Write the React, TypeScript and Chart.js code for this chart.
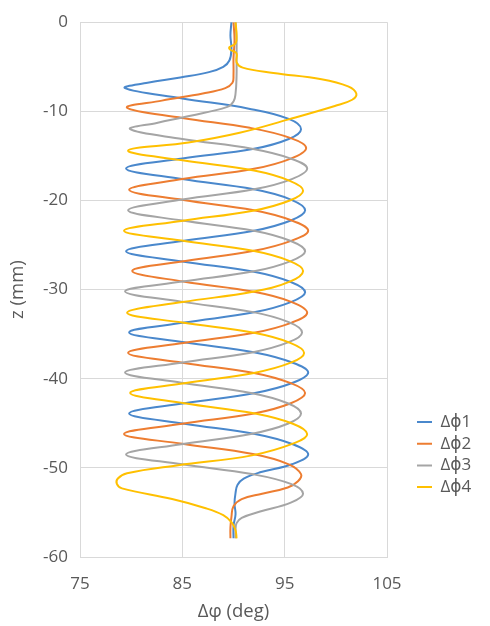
import React, { useEffect, useRef } from 'react';
import { Chart, registerables } from 'chart.js';

Chart.register(...registerables);

// Series labels and colours
const seriesNames = ['Δϕ1', 'Δϕ2', 'Δϕ3', 'Δϕ4'];
const seriesColors = ['#4a88cc', '#ed7d31', '#a5a5a5', '#ffc000'];

// Axis ticks
const phiTicks = [75, 85, 95, 105];
const zTicks = [0, -10, -20, -30, -40, -50, -60];

// Δϕ1: depth z (mm) and phase difference (deg)
const z1 = [0, -1.5, -3.0, -4.3, -5.0, -5.6, -6.2, -6.8, -7.4,
  -8.55, -9.7, -10.85, -12.0,
  -13.1, -14.2, -15.3, -16.4,
  -17.6, -18.75, -19.9, -21.1,
  -22.25, -23.4, -24.55, -25.7,
  -26.85, -28.0, -29.15, -30.3,
  -31.4, -32.55, -33.7, -34.8,
  -35.9, -37.05, -38.2, -39.3,
  -40.45, -41.6, -42.75, -43.9,
  -45.05, -46.2, -47.35, -48.5,
  -49.6, -50.5, -51.2, -51.9, -52.8, -54.0, -55.2, -56.5, -57.9];
const phi1 = [89.8, 89.7, 89.8, 89.6, 89.0, 87.6, 84.8, 81.6, 79.4,
  85.0, 91.5, 95.4, 96.6,
  95.4, 92.0, 85.0, 79.5,
  85.0, 92.0, 95.6, 97.0,
  95.6, 92.0, 85.0, 79.5,
  85.0, 92.0, 95.6, 97.0,
  95.6, 92.0, 85.2, 79.8,
  85.2, 92.1, 95.8, 97.3,
  95.8, 92.1, 85.2, 79.8,
  85.2, 92.1, 95.8, 97.3,
  95.7, 92.6, 91.0, 90.4, 90.2, 90.1, 90.2, 90.0, 90.0];

// Δϕ2
const z2 = [0, -2.0, -4.0, -6.0, -6.8, -7.4, -8.0, -8.8, -9.6,
  -10.75, -11.85, -13.0, -14.1,
  -15.3, -16.45, -17.6, -18.8,
  -19.95, -21.1, -22.25, -23.4,
  -24.5, -25.65, -26.8, -27.9,
  -29.1, -30.25, -31.4, -32.6,
  -33.7, -34.85, -36.0, -37.1,
  -38.2, -39.35, -40.5, -41.6,
  -42.75, -43.9, -45.05, -46.2,
  -47.3, -48.45, -49.6, -50.7,
  -51.5, -52.2, -52.9, -53.5, -54.3, -55.5, -56.7, -57.9];
const phi2 = [90.0, 90.1, 90.0, 90.0, 89.9, 89.2, 87.0, 83.0, 79.6,
  85.0, 91.6, 95.6, 97.1,
  95.6, 92.0, 85.0, 79.8,
  85.1, 92.0, 95.7, 97.3,
  95.7, 92.0, 85.3, 80.1,
  85.1, 92.0, 95.7, 97.2,
  95.7, 92.0, 85.1, 79.7,
  85.0, 92.0, 95.6, 97.0,
  95.6, 92.0, 85.0, 79.3,
  85.0, 91.9, 95.4, 96.6,
  96.3, 95.3, 92.8, 90.8, 90.0, 89.8, 89.7, 89.7];

// Δϕ3
const z3 = [0, -2.0, -4.0, -6.0, -8.0, -8.9, -9.5, -10.5, -11.3, -12.0,
  -13.1, -14.2, -15.3, -16.4,
  -17.6, -18.75, -19.9, -21.1,
  -22.25, -23.4, -24.55, -25.7,
  -26.8, -27.95, -29.1, -30.2,
  -31.35, -32.5, -33.65, -34.8,
  -35.9, -37.05, -38.2, -39.3,
  -40.45, -41.6, -42.75, -43.9,
  -45.05, -46.2, -47.35, -48.5,
  -49.6, -50.7, -51.8, -52.9,
  -53.9, -54.9, -55.6, -56.2, -57.0, -57.9];
const phi3 = [90.2, 90.3, 90.3, 90.3, 90.2, 90.0, 89.4, 85.8, 82.5, 79.9,
  85.0, 91.8, 95.6, 97.2,
  95.7, 92.0, 85.0, 79.7,
  85.0, 92.0, 95.6, 97.0,
  95.6, 92.0, 85.0, 79.4,
  84.9, 91.8, 95.4, 96.7,
  95.4, 91.8, 84.9, 79.4,
  84.9, 91.7, 95.3, 96.6,
  95.3, 91.7, 84.9, 79.5,
  85.0, 91.8, 95.6, 96.8,
  95.6, 92.6, 90.8, 90.3, 90.2, 90.2];

// Δϕ4
const z4 = [0, -1.5, -2.4, -2.8, -3.1, -3.5, -4.5, -5.1, -5.7, -6.4, -7.2, -8.0, -8.7, -9.4, -10.9, -12.4, -13.5, -14.4,
  -15.5, -16.65, -17.8, -18.9,
  -20.0, -21.15, -22.3, -23.4,
  -24.5, -25.65, -26.8, -27.9,
  -29.1, -30.25, -31.4, -32.6,
  -33.7, -34.85, -36.0, -37.1,
  -38.2, -39.35, -40.5, -41.6,
  -42.75, -43.9, -45.05, -46.2,
  -47.2, -48.6, -49.7, -50.6, -51.2, -51.8, -52.3, -53.5, -54.5, -55.3, -56.1, -57.0, -57.9];
const phi4 = [90.2, 90.3, 90.2, 89.6, 89.7, 90.3, 90.3, 90.9, 93.9, 98.6, 101.2, 102.0, 101.6, 99.9, 95.4, 90.6, 85.6, 79.7,
  85.0, 92.0, 95.5, 96.8,
  95.5, 91.9, 84.9, 79.3,
  84.9, 91.9, 95.5, 96.8,
  95.5, 91.9, 85.0, 79.6,
  85.0, 92.0, 95.6, 96.9,
  95.6, 92.0, 85.2, 79.9,
  85.2, 92.1, 95.8, 97.2,
  96.0, 91.8, 84.6, 79.6, 78.7, 78.6, 79.1, 84.0, 87.2, 89.0, 89.8, 90.2, 90.3];

const seriesZ = [z1, z2, z3, z4];
const seriesPhi = [phi1, phi2, phi3, phi4];

// Layout
const W = 490;
const H = 626;
const PLOT = { left: 80, right: 387, top: 17, bottom: 557 };
const FONT_FAMILY = '"Open Sans", "DejaVu Sans", sans-serif';
const FONT_SIZE = 17;
const TITLE_SIZE = 18.5;
const TEXT_COLOR = '#595959';
const GRID_COLOR = '#d9d9d9';
const LEGEND_X = 417;
const LEGEND_Y = 422;
const LEGEND_ROW = 21.7;
const LEGEND_PAD = LEGEND_ROW - FONT_SIZE;

// Moves the legend column next to the lower half of the plot
const legendPlacement = {
  id: 'legendPlacement',
  afterUpdate(chart: any) {
    const lg = chart.legend;
    if (!lg) return;
    lg.left = LEGEND_X - LEGEND_PAD;
    lg.top = LEGEND_Y - FONT_SIZE / 2 - LEGEND_PAD;
    lg.right = W;
    lg.bottom = H;
    lg.width = lg.right - lg.left;
    lg.height = lg.bottom - lg.top;
  },
};

export default function App() {
  const canvasRef = useRef<HTMLCanvasElement | null>(null);

  useEffect(() => {
    const canvas = canvasRef.current;
    if (!canvas) return;
    const font = { family: FONT_FAMILY, size: FONT_SIZE };
    const titleFont = { family: FONT_FAMILY, size: TITLE_SIZE };

    const datasets = seriesNames.map((name, i) => ({
      label: name,
      data: seriesZ[i].map((z, k) => ({ x: seriesPhi[i][k], y: z })),
      showLine: true,
      borderColor: seriesColors[i],
      backgroundColor: seriesColors[i],
      borderWidth: 2,
      pointRadius: 0,
      tension: 0.4,
      order: seriesNames.length - i,
    }));

    const chart = new Chart(canvas, {
      type: 'scatter',
      data: { datasets },
      plugins: [legendPlacement],
      options: {
        responsive: false,
        animation: false,
        devicePixelRatio: 1,
        events: [],
        layout: {
          padding: { left: 0, top: PLOT.top, right: W - PLOT.right, bottom: 0 },
        },
        plugins: {
          tooltip: { enabled: false },
          legend: {
            position: 'chartArea',
            align: 'start',
            labels: {
              usePointStyle: true,
              pointStyleWidth: 15,
              padding: LEGEND_PAD,
              color: TEXT_COLOR,
              font,
              generateLabels: () =>
                seriesNames.map((name, i) => ({
                  text: name,
                  fillStyle: seriesColors[i],
                  strokeStyle: seriesColors[i],
                  lineWidth: 2,
                  pointStyle: 'line',
                  hidden: false,
                  fontColor: TEXT_COLOR,
                  datasetIndex: i,
                })),
            },
          },
        },
        scales: {
          x: {
            type: 'linear',
            position: 'bottom',
            min: phiTicks[0],
            max: phiTicks[phiTicks.length - 1],
            ticks: {
              stepSize: phiTicks[1] - phiTicks[0],
              padding: 17,
              color: TEXT_COLOR,
              font,
            },
            grid: { color: GRID_COLOR, lineWidth: 1, drawTicks: false },
            border: { color: GRID_COLOR },
            title: {
              display: true,
              text: 'Δφ (deg)',
              color: TEXT_COLOR,
              font: titleFont,
              padding: { top: 0, bottom: 3 },
            },
            afterFit: (scale: any) => {
              scale.height = H - PLOT.bottom;
            },
          },
          y: {
            type: 'linear',
            position: 'left',
            min: zTicks[zTicks.length - 1],
            max: zTicks[0],
            ticks: {
              stepSize: zTicks[0] - zTicks[1],
              padding: 12,
              color: TEXT_COLOR,
              font,
            },
            grid: { color: GRID_COLOR, lineWidth: 1, drawTicks: false },
            border: { color: GRID_COLOR },
            title: {
              display: true,
              text: 'z (mm)',
              color: TEXT_COLOR,
              font: titleFont,
              padding: { top: 7, bottom: 0 },
            },
            afterFit: (scale: any) => {
              scale.width = PLOT.left;
            },
          },
        },
      },
    } as any);

    return () => chart.destroy();
  }, []);

  return (
    <div style={{ position: 'fixed', left: 0, top: 0, width: W, height: H, background: '#ffffff' }}>
      <canvas ref={canvasRef} width={W} height={H} style={{ display: 'block' }} />
    </div>
  );
}
